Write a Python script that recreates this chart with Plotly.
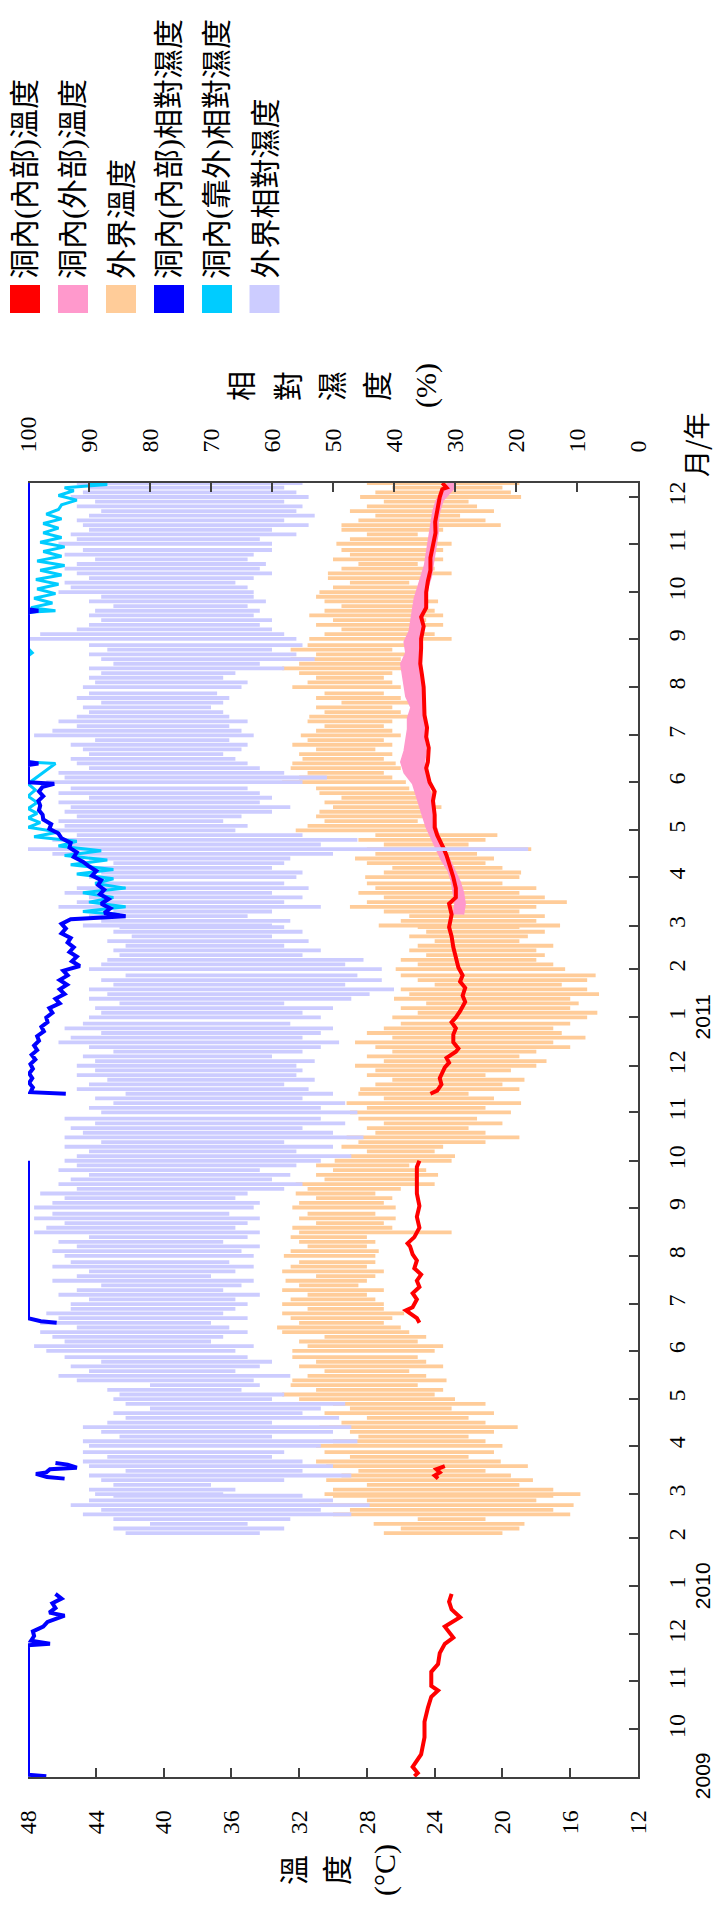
import plotly.graph_objects as go
import pandas as pd

# ---------------- axes / labels ----------------
temp_ticks = [12, 16, 20, 24, 28, 32, 36, 40, 44, 48]
rh_ticks = [0, 10, 20, 30, 40, 50, 60, 70, 80, 90, 100]
month_ticks = [d.strftime("%Y-%m-%d") for d in pd.date_range("2009-10-01", "2011-12-01", freq="MS")]
month_labels = [str(int(d[5:7])) for d in month_ticks]
year_labels = ["2009", "2010", "2011"]
year_dates = ["2009-09-01", "2010-01-01", "2011-01-01"]

legend_names = ["洞內(內部)溫度", "洞內(外部)溫度", "外界溫度",
                "洞內(內部)相對濕度", "洞內(靠外)相對濕度", "外界相對濕度"]
legend_colors = ["#FF0000", "#FF99CC", "#FFCC99", "#0000FF", "#00CCFF", "#CCCCFF"]

# ---------------- outdoor series: daily high / low read about every 3 days ----------------
out_months = pd.date_range("2010-02-01", "2011-12-01", freq="MS")
sample_days = [1, 4, 7, 10, 13, 16, 19, 22, 25, 28]

out_rh_hi_2010 = [84, 86, 80, 86, 91, 88, 93, 90, 86,
                  89, 90, 86, 88, 90, 84, 90, 91, 87, 91,
                  90, 91, 85, 88, 91, 87, 84, 86, 80, 84,
                  86, 85, 87, 80, 92, 95, 90, 93, 88, 94,
                  97, 99, 94, 96, 98, 92, 98, 95, 97, 93,
                  93, 90, 95, 92, 88, 96, 92, 90, 96, 93,
                  94, 96, 92, 95, 90, 99, 97, 94, 99, 96,
                  99, 96, 94, 98, 92, 95, 93, 90, 95, 92,
                  94, 92, 90, 94, 88, 94, 91, 93, 89, 94,
                  88, 90, 86, 89, 84, 92, 90, 87, 92, 89,
                  92, 89, 91, 86, 90, 95, 93, 88, 94, 91]
out_rh_lo_2010 = [62, 58, 64, 57, 47, 52, 44, 50, 55,
                  68, 66, 70, 58, 47, 55, 50, 55, 60, 58,
                  52, 46, 60, 50, 47, 60, 49, 55, 52, 48,
                  60, 58, 65, 62, 63, 57, 66, 62, 60, 64,
                  66, 63, 70, 68, 64, 67, 70, 64, 68, 66,
                  64, 66, 62, 68, 65, 63, 70, 66, 63, 67,
                  63, 65, 62, 68, 64, 62, 66, 64, 62, 67,
                  63, 62, 66, 64, 58, 55, 60, 57, 62, 56,
                  52, 47, 56, 50, 58, 45, 50, 55, 48, 52,
                  46, 52, 48, 55, 50, 54, 58, 53, 56, 55,
                  56, 53, 60, 55, 52, 49, 55, 52, 50, 57]
out_rh_hi_2011 = [90, 88, 89, 85, 90, 87, 90, 86, 88, 84,
                  90, 88, 87, 85, 86, 84, 87, 83, 86, 85,
                  91, 88, 90, 86, 95, 92, 90, 94, 92, 89,
                  90, 88, 89, 86, 90, 96, 100, 93, 96, 92,
                  96, 94, 95, 92, 94, 93, 95, 90, 95, 93,
                  97, 94, 95, 90, 92, 93, 90, 91, 93, 89,
                  99, 96, 92, 95, 92, 90, 91, 88, 92, 90,
                  91, 89, 90, 88, 90, 86, 88, 90, 87, 90,
                  100, 98, 92, 90, 88, 90, 89, 86, 90, 88,
                  95, 93, 94, 90, 92, 94, 92, 89, 94, 91,
                  95, 92, 93, 90, 91, 92, 90, 88, 92, 89,
                  93, 91, 90, 92]
out_rh_lo_2011 = [52, 55, 50, 58, 47, 44, 40, 48, 42, 46,
                  42, 48, 45, 55, 52, 58, 54, 60, 55, 58,
                  60, 57, 64, 60, 52, 58, 55, 60, 54, 58,
                  56, 55, 60, 58, 57, 50, 18, 52, 46, 55,
                  66, 64, 68, 65, 60, 57, 62, 60, 62, 64,
                  55, 51, 58, 62, 64, 66, 68, 65, 64, 67,
                  63, 65, 67, 64, 67, 68, 70, 68, 67, 69,
                  65, 64, 68, 66, 58, 62, 53, 56, 60, 55,
                  56, 58, 60, 62, 60, 63, 62, 64, 61, 63,
                  63, 64, 66, 63, 60, 62, 61, 64, 63, 60,
                  60, 62, 56, 60, 54, 58, 53, 56, 55, 58,
                  54, 56, 58, 55]

out_t_lo_2010 = [20, 19, 18.7, 21, 16, 17, 15.8, 18, 17,
                 15.4, 17, 19, 18.2, 19.5, 21, 18.5, 20.1, 22, 20.5,
                 20, 21, 22, 20.5, 19.1, 21, 22, 20.5, 23, 21,
                 22.8, 24, 23.5, 25, 23.3, 24.5, 25.5, 23.5, 24.5, 25,
                 24, 23.5, 25, 24.5, 25.5, 26, 27, 26.5, 25.8, 27,
                 27, 27.5, 28, 27, 28.5, 28, 27.5, 27, 28, 27.5,
                 27.5, 27.3, 28, 27.5, 28, 23, 26.5, 27, 26.3, 27.5,
                 26.3, 27, 26.5, 27.5, 26, 24, 25, 23.8, 24.5, 25.5,
                 23, 22.8, 24, 23.5, 21, 19, 21, 22, 20, 21.5,
                 19.5, 21, 18.9, 20.5, 22, 19, 20, 18.7, 21, 19.5,
                 18, 17.4, 19, 18, 16, 17, 15.1, 16.5, 17, 16]
out_t_hi_2010 = [27, 26, 27.6, 25, 30, 29, 30.8, 28, 30,
                 30.5, 30, 28, 30.4, 29.5, 28.5, 30.4, 31, 29, 30.5,
                 31, 30, 28.5, 29, 30.8, 29.5, 28, 30.5, 29, 30,
                 32, 33, 31, 32.5, 32.4, 31.5, 30.5, 32, 31, 32.4,
                 32.4, 31.5, 32, 30.5, 33, 33.3, 32, 32.5, 33, 31.5,
                 33, 32.5, 31.5, 33, 32, 32.8, 31, 33, 32.5, 32,
                 32.9, 32.5, 31.5, 32, 32.5, 32, 32.4, 31, 32, 31.5,
                 32.4, 32, 31, 32.2, 31.5, 32.2, 30.5, 31, 30, 31,
                 29.9, 29, 28, 29.5, 28.5, 29.2, 27.5, 28, 27, 28.5,
                 29, 28, 29.2, 27, 28.5, 28.4, 27.5, 26.5, 28, 27.5,
                 28.7, 27, 28, 26.5, 27.5, 28.7, 26.5, 28, 27, 26]
out_t_lo_2011 = [15, 14.4, 16, 15.5, 16, 14.3, 15, 16.5, 15, 14.5,
                 16.3, 17, 18, 17.5, 18, 17, 19, 18.5, 17.5, 19,
                 16.6, 18, 17.5, 19, 18, 16.2, 17.5, 19, 18, 20,
                 19, 18.9, 20, 21, 20.5, 21.5, 18.3, 22, 21, 20.3,
                 23.8, 24.5, 25, 24, 24.5, 23.6, 24.5, 25, 24, 25.5,
                 25.7, 26.5, 27, 26, 26.3, 27, 26.5, 27.5, 26.5, 27,
                 26, 26.5, 27, 26.5, 25.2, 26, 26.5, 25.5, 26, 27,
                 26, 26.5, 27, 26.5, 24.9, 25.5, 26, 25, 26.5, 25.5,
                 23, 24, 25, 23.5, 24.5, 23.5, 24, 25, 23.8, 24.5,
                 24.4, 25, 25.5, 24.5, 23, 24, 25, 23.5, 24, 23.5,
                 23, 24, 25, 23.5, 20.1, 21, 22.5, 20.5, 21.5, 22,
                 18.9, 19.5, 20, 19]
out_t_hi_2011 = [26.5, 25, 26, 24.5, 26.4, 25.5, 26, 24, 25, 26,
                 26.3, 25, 26, 24.5, 25.5, 25, 24, 25.5, 24.5, 25,
                 27.3, 26, 25.5, 27, 29, 28, 27, 28.5, 27.5, 28,
                 28.1, 27, 26.5, 28, 28.7, 27.5, 28, 27, 28.5, 27.5,
                 32.2, 31.5, 30.5, 31, 30.8, 30, 30.5, 29.5, 30.8, 31,
                 33, 32, 31.5, 32.5, 32.4, 31.8, 32, 31, 32.4, 31.5,
                 31.9, 31, 30.5, 31.5, 31.4, 30.5, 31, 29.5, 31, 30.5,
                 32.4, 31.5, 31, 32, 33, 32, 32.5, 31, 32.5, 31.5,
                 31.4, 30.5, 29.5, 31, 30, 31.4, 30.5, 29.5, 30.5, 31,
                 30.8, 30, 29, 30.3, 30.3, 29.5, 28.5, 30, 29, 29.5,
                 29.8, 29, 28, 29.5, 29.5, 28.5, 27.5, 29, 28, 27,
                 28.4, 27.5, 26.5, 28]

# ---------------- cave inner temperature (red) ----------------
red_dates = ["2009-09-01", "2009-09-03", "2009-09-07", "2009-09-15", "2009-09-26", "2009-10-06",
             "2009-10-15", "2009-10-22", "2009-10-26", "2009-10-29", "2009-11-07", "2009-11-12",
             "2009-11-19", "2009-11-25", "2009-11-29", "2009-12-06", "2009-12-12", "2009-12-17",
             "2009-12-22", "2009-12-27",
             "2010-02-01",
             "2010-03-11", "2010-03-13", "2010-03-15", "2010-03-17", "2010-03-19",
             "2010-05-01",
             "2010-06-19", "2010-06-22", "2010-06-25", "2010-06-27", "2010-06-29", "2010-07-04",
             "2010-07-08", "2010-07-12", "2010-07-16", "2010-07-20", "2010-07-24", "2010-07-29",
             "2010-08-02", "2010-08-07", "2010-08-09", "2010-08-13", "2010-08-19", "2010-08-26",
             "2010-09-02", "2010-09-10", "2010-09-20", "2010-09-27", "2010-10-01",
             "2010-10-20",
             "2010-11-13", "2010-11-15", "2010-11-19", "2010-11-23", "2010-11-30", "2010-12-03",
             "2010-12-06", "2010-12-10", "2010-12-12", "2010-12-16", "2010-12-21", "2010-12-25",
             "2010-12-29", "2011-01-01", "2011-01-05", "2011-01-11", "2011-01-15", "2011-01-20",
             "2011-01-24", "2011-01-28", "2011-02-02", "2011-02-08", "2011-02-15", "2011-02-22",
             "2011-02-28", "2011-03-08", "2011-03-15", "2011-03-19", "2011-03-25", "2011-04-01",
             "2011-04-05", "2011-04-09", "2011-04-15", "2011-04-19", "2011-04-24", "2011-04-28",
             "2011-05-03", "2011-05-11", "2011-05-20", "2011-05-26", "2011-06-01", "2011-06-06",
             "2011-06-10", "2011-06-14", "2011-06-23", "2011-06-30", "2011-07-06", "2011-07-14",
             "2011-07-22", "2011-08-01", "2011-08-09", "2011-08-16", "2011-08-26", "2011-09-01",
             "2011-09-09", "2011-09-15", "2011-09-21", "2011-10-01", "2011-10-08", "2011-10-15",
             "2011-10-23", "2011-11-01", "2011-11-08", "2011-11-15", "2011-11-24", "2011-12-01",
             "2011-12-06", "2011-12-07", "2011-12-10"]
red_vals = [25.2, 25.0, 25.3, 24.8, 24.6, 24.6,
            24.4, 24.2, 23.8, 24.2, 24.2, 23.8,
            23.7, 23.4, 22.9, 23.4, 22.5, 23.0,
            23.15, 23.0,
            None,
            23.8, 24.0, 23.7, 23.9, 23.4,
            None,
            24.9, 25.05, 25.45, 25.7, 25.3, 25.05,
            25.3, 24.9, 25.05, 24.8, 25.2, 25.05,
            25.3, 25.45, 25.6, 25.2, 24.9, 25.05,
            24.9, 25.05, 25.05, 25.05, 24.9,
            None,
            24.25, 23.85, 23.6, 23.7, 23.4, 23.15,
            23.3, 22.75, 22.6, 22.9, 22.9, 22.75,
            23.0, 22.75, 22.5, 22.2, 22.35, 22.2,
            22.5, 22.35, 22.6, 22.75, 22.9, 23.0,
            23.15, 23.0, 23.15, 22.75, 22.75, 22.9,
            23.0, 23.15, 23.3, 23.45, 23.7, 23.85,
            24.0, 24.0, 24.1, 24.0, 24.3, 24.4,
            24.5, 24.4, 24.35, 24.5, 24.45, 24.6,
            24.6, 24.65, 24.75, 24.85, 24.8, 24.8,
            24.65, 24.8, 24.5, 24.5, 24.4, 24.25,
            24.25, 24.1, 23.95, 23.97, 23.85, 23.7,
            23.55, 23.3, 23.55]

# ---------------- cave outer-part temperature (pink band edges) ----------------
pink_dates = ["2011-03-08", "2011-03-15", "2011-03-22", "2011-03-29", "2011-04-05", "2011-04-12",
              "2011-04-19", "2011-04-26", "2011-05-03", "2011-05-10", "2011-05-17", "2011-05-24",
              "2011-05-31", "2011-06-07", "2011-06-14", "2011-06-21", "2011-06-28", "2011-07-05",
              "2011-07-12", "2011-07-19", "2011-07-26", "2011-08-02", "2011-08-09", "2011-08-16",
              "2011-08-23", "2011-08-30", "2011-09-06", "2011-09-13", "2011-09-20", "2011-09-27",
              "2011-10-04", "2011-10-11", "2011-10-18", "2011-10-25", "2011-11-01", "2011-11-08",
              "2011-11-15", "2011-11-22", "2011-11-29", "2011-12-06", "2011-12-10"]
pink_warm = [22.9, 22.8, 22.9, 23.0, 23.2, 23.6,
             23.9, 24.2, 24.5, 24.7, 24.9, 25.1,
             25.3, 25.8, 26.0, 25.8, 25.7, 25.6,
             25.6, 25.4, 25.7, 25.8, 25.9, 26.0,
             25.7, 25.8, 25.5, 25.4, 25.3, 25.2,
             25.0, 24.8, 24.6, 24.5, 24.4, 24.3,
             24.2, 24.1, 23.9, 23.4, 23.2]
pink_cool = [22.3, 22.2, 22.3, 22.5, 22.8, 23.1,
             23.4, 23.7, 23.9, 24.0, 24.1, 24.2,
             24.4, 24.5, 24.6, 24.5, 24.6, 24.6,
             24.6, 24.6, 24.7, 24.7, 24.8, 24.9,
             24.8, 24.8, 24.7, 24.7, 24.6, 24.5,
             24.4, 24.2, 24.1, 24.0, 23.9, 23.8,
             23.8, 23.7, 23.5, 22.9, 22.8]

# ---------------- cave inner relative humidity (blue) ----------------
blue_dates = ["2009-09-01", "2009-09-02", "2009-11-24", "2009-11-25", "2009-11-27", "2009-11-30",
              "2009-12-03", "2009-12-06", "2009-12-09", "2009-12-12", "2009-12-13", "2009-12-15",
              "2009-12-18", "2009-12-21", "2009-12-24", "2009-12-27",
              "2010-02-01",
              "2010-03-11", "2010-03-12", "2010-03-14", "2010-03-15", "2010-03-17", "2010-03-18",
              "2010-03-20", "2010-03-21",
              "2010-05-01",
              "2010-06-19", "2010-06-20", "2010-06-22", "2010-10-01",
              "2010-10-20",
              "2010-11-13", "2010-11-14", "2010-11-17", "2010-11-20", "2010-11-23", "2010-11-26",
              "2010-11-29", "2010-12-02", "2010-12-05", "2010-12-08", "2010-12-11", "2010-12-14",
              "2010-12-17", "2010-12-20", "2010-12-23", "2010-12-26", "2010-12-29", "2011-01-01",
              "2011-01-04", "2011-01-07", "2011-01-10", "2011-01-13", "2011-01-16", "2011-01-19",
              "2011-01-22", "2011-01-25", "2011-01-28", "2011-01-31", "2011-02-03", "2011-02-06",
              "2011-02-09", "2011-02-12", "2011-02-15", "2011-02-18", "2011-02-21", "2011-02-24",
              "2011-02-27", "2011-03-02", "2011-03-05", "2011-03-07", "2011-03-09", "2011-03-12",
              "2011-03-15", "2011-03-18", "2011-03-21", "2011-03-24", "2011-03-27", "2011-03-30",
              "2011-04-02", "2011-04-05", "2011-04-08", "2011-04-11", "2011-04-14", "2011-04-17",
              "2011-04-20", "2011-04-23", "2011-04-26", "2011-04-29", "2011-05-02", "2011-05-05",
              "2011-05-08", "2011-05-11", "2011-05-14", "2011-05-17", "2011-05-20", "2011-05-23",
              "2011-05-26", "2011-05-29", "2011-05-31", "2011-06-01", "2011-06-12", "2011-06-13",
              "2011-06-14", "2011-09-18", "2011-09-19", "2011-09-20", "2011-12-10"]
blue_vals = [97, 100, 100, 96.4, 99.5, 99.0,
             99.2, 97.5, 96.8, 95.0, 94.0, 96.5,
             95.5, 96.0, 94.5, 95.5,
             None,
             94.0, 96.9, 98.7, 97.0, 96.4, 92.0,
             93.5, 95.5,
             None,
             95.3, 97.9, 100, 100,
             None,
             93.8, 99.6, 99.2, 99.8, 99.3, 99.8,
             99.2, 99.6, 98.8, 99.4, 98.5, 99.0,
             98.2, 98.5, 97.4, 97.8, 96.8, 97.0,
             96.0, 96.5, 94.8, 95.5, 94.0, 94.8,
             93.6, 94.8, 93.5, 94.2, 91.5, 92.8,
             92.0, 93.2, 92.5, 93.5, 93.0, 94.5,
             93.8, 94.5, 93.0, 84.0, 87.5, 86.5,
             88.0, 86.8, 88.2, 87.5, 88.5, 88.0,
             89.5, 88.8, 90.0, 91.0, 92.5, 92.0,
             93.2, 93.0, 94.5, 95.0, 96.5, 96.2,
             97.5, 97.6, 98.2, 98.0, 98.3, 97.5,
             98.2, 97.6, 95.7, 100, 100, 98.3,
             100, 100, 98.3, 100, 100]

# ---------------- cave near-entrance relative humidity (cyan) ----------------
cyan_dates = ["2011-03-08", "2011-03-10", "2011-03-13", "2011-03-16", "2011-03-19", "2011-03-22",
              "2011-03-25", "2011-03-28", "2011-03-31", "2011-04-03", "2011-04-06", "2011-04-09",
              "2011-04-12", "2011-04-15", "2011-04-18", "2011-04-21", "2011-04-24", "2011-04-27",
              "2011-04-30", "2011-05-03", "2011-05-06", "2011-05-09", "2011-05-12", "2011-05-15",
              "2011-05-19", "2011-05-23", "2011-05-27", "2011-05-31", "2011-06-13", "2011-06-14",
              "2011-08-21", "2011-08-23", "2011-08-26", "2011-09-18", "2011-09-19", "2011-09-21",
              "2011-09-24", "2011-09-27", "2011-09-30", "2011-10-03", "2011-10-06", "2011-10-09",
              "2011-10-12", "2011-10-15", "2011-10-18", "2011-10-21", "2011-10-24", "2011-10-27",
              "2011-10-30", "2011-11-02", "2011-11-05", "2011-11-08", "2011-11-11", "2011-11-14",
              "2011-11-17", "2011-11-20", "2011-11-23", "2011-11-26", "2011-11-29", "2011-12-02",
              "2011-12-05", "2011-12-07", "2011-12-09", "2011-12-10"]
cyan_vals = [85, 91, 84, 90, 86, 91,
             84, 89, 86, 92, 86, 93,
             87, 94, 88, 95, 92, 99,
             95, 100, 98, 100, 98.5, 100,
             98.5, 100, 98.8, 100, 95.5, 100,
             100, 99.3, 100, 100, 95.5, 99.5,
             96, 99, 95.5, 98.5, 95, 98.7,
             94.5, 98, 94, 98.5, 94.5, 97.5,
             94, 98, 94.5, 97.5, 95, 97.5,
             94.5, 97, 95, 94.5, 92, 95,
             92.5, 94, 87, 90]

# ---------------- build outdoor stroke arrays ----------------
out_dates = [m + pd.Timedelta(days=d - 1) for m in out_months for d in sample_days]
out_dates = [d.strftime("%Y-%m-%d") for d in out_dates
             if pd.Timestamp("2010-02-04") <= d <= pd.Timestamp("2011-12-10")]
rh_hi = out_rh_hi_2010 + out_rh_hi_2011
rh_lo = out_rh_lo_2010 + out_rh_lo_2011
t_hi = out_t_hi_2010 + out_t_hi_2011
t_lo = out_t_lo_2010 + out_t_lo_2011


def strokes(dates, a, b):
    xs, ys = [], []
    for d, va, vb in zip(dates, a, b):
        xs += [va, vb, None]
        ys += [d, d, None]
    return xs, ys


t_x, t_y = strokes(out_dates, t_lo, t_hi)
rh_x, rh_y = strokes(out_dates, rh_hi, rh_lo)

# ---------------- figure ----------------
L, R, T, B = 28, 76, 483, 129
W, H = 714, 1906
pw, ph = W - L - R, H - T - B


def px(x):
    return (x - L) / pw


def py(y):
    return (H - B - y) / ph


AX = "#404040"
SERIF = "Liberation Serif, Times New Roman, serif"
CJK = "Noto Sans CJK TC, Noto Sans CJK SC, sans-serif"
MIX = "Liberation Serif, Noto Sans CJK TC, sans-serif"

fig = go.Figure()
fig.add_trace(go.Scatter(x=t_x, y=t_y, xaxis="x", yaxis="y", mode="lines",
                         line=dict(color="#FFCC99", width=3.8), showlegend=False, name=legend_names[2]))
fig.add_trace(go.Scatter(x=pink_warm + pink_cool[::-1], y=pink_dates + pink_dates[::-1],
                         xaxis="x", yaxis="y", mode="lines", fill="toself", fillcolor="#FF99CC",
                         line=dict(color="#FF99CC", width=1.5), showlegend=False, name=legend_names[1]))
fig.add_trace(go.Scatter(x=red_vals, y=red_dates, xaxis="x", yaxis="y", mode="lines",
                         line=dict(color="#FF0000", width=4), showlegend=False, name=legend_names[0]))
fig.add_trace(go.Scatter(x=rh_x, y=rh_y, xaxis="x2", yaxis="y", mode="lines",
                         line=dict(color="#CCCCFF", width=3.8), showlegend=False, name=legend_names[5]))
fig.add_trace(go.Scatter(x=cyan_vals, y=cyan_dates, xaxis="x2", yaxis="y", mode="lines",
                         line=dict(color="#00CCFF", width=3), showlegend=False, name=legend_names[4]))
fig.add_trace(go.Scatter(x=blue_vals, y=blue_dates, xaxis="x2", yaxis="y", mode="lines",
                         line=dict(color="#0000FF", width=4), showlegend=False, name=legend_names[3]))

common = dict(showgrid=False, zeroline=False, showline=True, linecolor=AX, linewidth=1.5,
              ticks="inside", ticklen=9, tickwidth=1.5, tickcolor=AX, tickangle=-90,
              tickfont=dict(family=SERIF, size=24, color="black"))

fig.update_layout(
    width=W, height=H, autosize=False,
    margin=dict(l=L, r=R, t=T, b=B, pad=0),
    paper_bgcolor="white", plot_bgcolor="white",
    showlegend=False,
    xaxis=dict(range=[48, 12], tickmode="array", tickvals=temp_ticks,
               ticktext=[str(v) for v in temp_ticks], side="bottom", anchor="y",
               ticklabelstandoff=22, **common),
    xaxis2=dict(range=[100, 0], tickmode="array", tickvals=rh_ticks,
                ticktext=[str(v) for v in rh_ticks], side="top", overlaying="x", anchor="y",
                ticklabelstandoff=24, **common),
    yaxis=dict(type="date", range=["2009-08-31 12:00", "2011-12-10"], side="right", anchor="x",
               tickmode="array", tickvals=month_ticks, ticktext=month_labels,
               ticklabelstandoff=16, **common),
)

ann = []
# year labels
for lab, d in zip(year_labels, year_dates):
    ann.append(dict(text=lab, x=px(702), xref="paper", y=d, yref="y", showarrow=False,
                    textangle=-90, font=dict(family="Liberation Sans, Arial, sans-serif", size=21, color="black"),
                    xanchor="center", yanchor="middle"))
# time axis title
ann.append(dict(text="月/年", x=px(695), y=py(445), xref="paper", yref="paper", showarrow=False,
                textangle=-90, font=dict(family=CJK, size=27, color="black"),
                xanchor="center", yanchor="middle"))
# RH title (stacked characters)
for ch, xx in zip(["相", "對", "濕", "度", "(%)"], [241, 288, 332, 377, 426]):
    ann.append(dict(text=ch, x=px(xx), y=py(386), xref="paper", yref="paper", showarrow=False,
                    textangle=-90, font=dict(family=MIX, size=30, color="black"),
                    xanchor="center", yanchor="middle"))
# temperature title (stacked characters)
for ch, xx in zip(["溫", "度", "(°C)"], [294, 337, 385]):
    ann.append(dict(text=ch, x=px(xx), y=py(1870), xref="paper", yref="paper", showarrow=False,
                    textangle=-90, font=dict(family=MIX, size=30, color="black"),
                    xanchor="center", yanchor="middle"))

# legend (rotated)
shapes = []
leg_x = [25, 73, 121, 169, 217, 264.5]
for name, col, cx in zip(legend_names, legend_colors, leg_x):
    shapes.append(dict(type="rect", xref="paper", yref="paper",
                       x0=px(cx - 15), x1=px(cx + 15), y0=py(313), y1=py(285),
                       fillcolor=col, line=dict(width=0)))
    ann.append(dict(text=name, x=px(cx), y=py(281), xref="paper", yref="paper", showarrow=False,
                    textangle=-90, font=dict(family=MIX, size=30, color="black"),
                    xanchor="center", yanchor="bottom"))

fig.update_layout(annotations=ann, shapes=shapes)
fig.write_html("out.html")
